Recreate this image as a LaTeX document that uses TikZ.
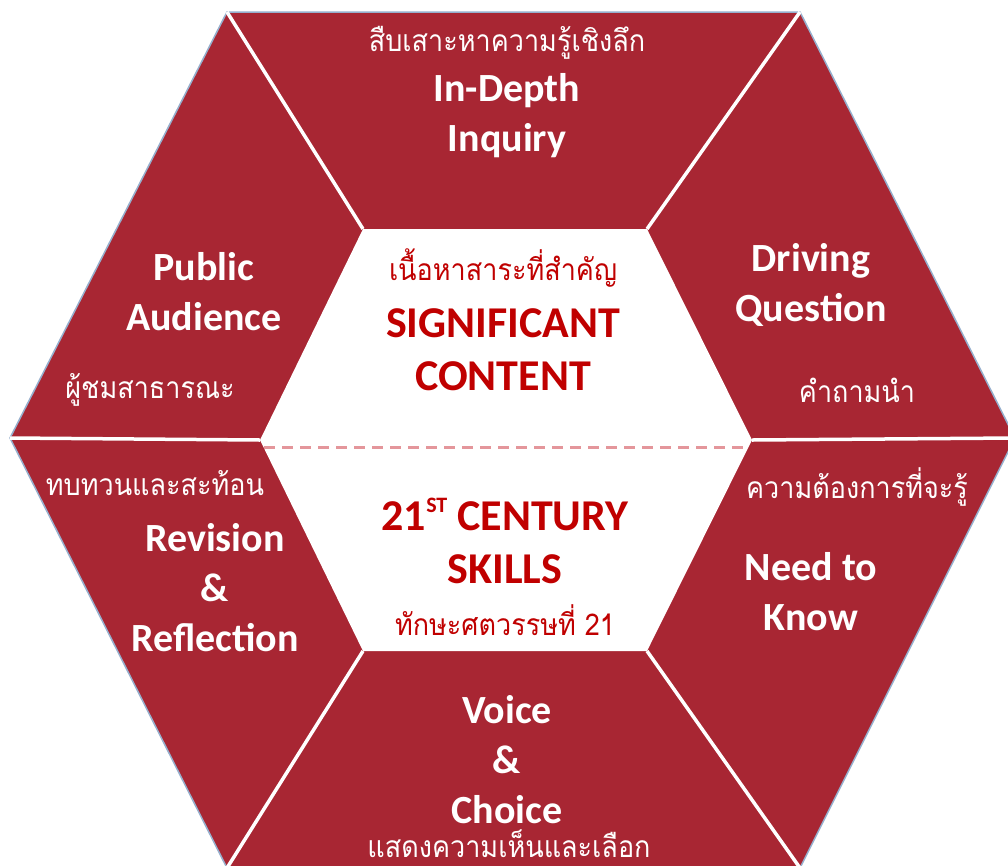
\documentclass[tikz,border=0pt]{standalone}
\usepackage{graphicx}
\usepackage{fontspec}
\setmainfont{Carlito}
\newfontfamily\thai[Script=Thai]{Loma}
\newcommand{\thn}[1]{\scalebox{0.9}[1]{#1}}
\definecolor{hexred}{RGB}{168,38,51}
\definecolor{ctrred}{RGB}{192,0,0}
\definecolor{dashpink}{RGB}{228,150,155}
\definecolor{edgeblue}{RGB}{150,175,205}
\begin{document}
\begin{tikzpicture}[x=1pt,y=-1pt,
  eng/.style={font=\bfseries\fontsize{40}{50}\selectfont, text=white, align=center, inner sep=0pt},
  ctr/.style={font=\bfseries\fontsize{44}{53}\selectfont, text=ctrred, align=center, inner sep=0pt},
  thw/.style={font=\thai\fontsize{30}{36}\selectfont, text=white, inner sep=0pt},
  thr/.style={font=\thai\fontsize{30}{36}\selectfont, text=ctrred, inner sep=0pt},
  spoke/.style={white, line width=3.5pt},
  midline/.style={dashpink, line width=3pt, dash pattern=on 11pt off 7pt}]
\useasboundingbox (0,0) rectangle (1008,865);
\fill[white] (0,0) rectangle (1008,865);
\clip (0,0) rectangle (1008,865);
% outer hexagon
\coordinate (o1) at (10,438);
\coordinate (o2) at (227,12);
\coordinate (o3) at (800,12);
\coordinate (o4) at (1015,438);
\coordinate (o5) at (800,868);
\coordinate (o6) at (227,868);
% inner hexagon
\coordinate (i1) at (260,440);
\coordinate (i2) at (363,229);
\coordinate (i3) at (647,229);
\coordinate (i4) at (752,440);
\coordinate (i5) at (647,651);
\coordinate (i6) at (363,651);
\coordinate (dl) at (264,447);
\coordinate (dr) at (746,447);
\draw[edgeblue, line width=1.5pt, fill=hexred] (o1) -- (o2) -- (o3) -- (o4) -- (o5) -- (o6) -- cycle;
\fill[white] (i1) -- (i2) -- (i3) -- (i4) -- (i5) -- (i6) -- cycle;
\draw[spoke] (o1) -- (i1);
\draw[spoke] (o2) -- (i2);
\draw[spoke] (o3) -- (i3);
\draw[spoke] (o4) -- (i4);
\draw[spoke] (o5) -- (i5);
\draw[spoke] (o6) -- (i6);
\draw[midline] (dl) -- (dr);
% labels
\node[thw] (topth) at (507,43) {\thn{สืบเสาะหาความรู้เชิงลึก}};
\node[eng] (inquiry) at (507,116) {In-Depth\\Inquiry};
\node[eng] (public) at (204,292) {Public\\Audience};
\node[thw] (publicth) at (150,390) {\thn{ผู้ชมสาธารณะ}};
\node[eng] (driving) at (811,285) {Driving\\Question};
\node[thw] (drivingth) at (857,390) {\thn{คำถามนำ}};
\node[thw] (revisionth) at (155,483) {\thn{ทบทวนและสะท้อน}};
\node[eng] (revision) at (215,588) {Revision\\\&\\Reflection};
\node[thw] (needth) at (857,487) {\thn{ความต้องการที่จะรู้}};
\node[eng] (need) at (811,592) {Need to\\Know};
\node[eng] (voice) at (507,760) {Voice\\\&\\Choice};
\node[thw, text depth=0pt, anchor=base] (voiceth) at (509,857) {\thn{แสดงความเห็นและเลือก}};
\node[thr] (sigth) at (503,268) {\thn{เนื้อหาสาระที่สำคัญ}};
\node[ctr] (sig) at (503,350) {SIGNIFICANT\\CONTENT};
\node[ctr] (skills) at (505,541) {21\raisebox{0.4em}{\fontsize{22}{22}\selectfont ST} CENTURY\\SKILLS};
\node[thr] (skillsth) at (505,620) {\thn{ทักษะศตวรรษที่ 21}};
\end{tikzpicture}
\end{document}
